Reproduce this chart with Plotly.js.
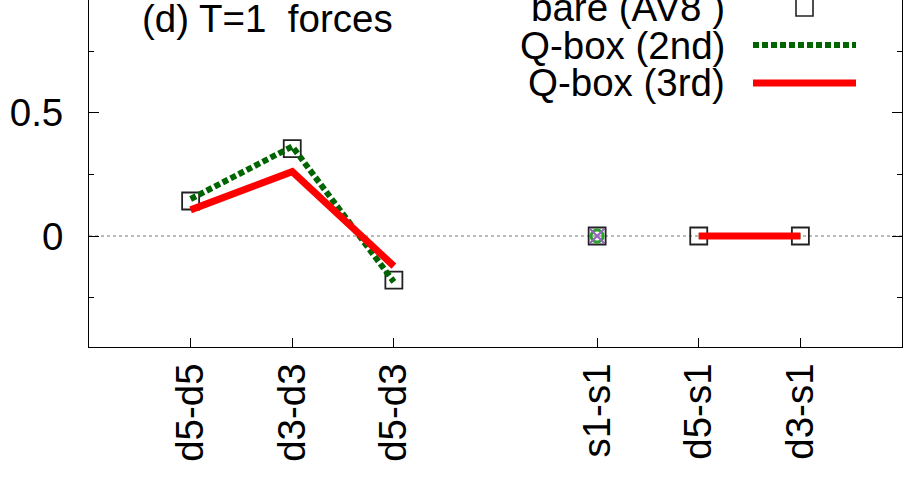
<!DOCTYPE html>
<html><head><meta charset="utf-8">
<script src="https://cdn.plot.ly/plotly-3.0.1.min.js"></script>
<style>html,body{margin:0;padding:0;background:#fff}</style>
</head><body>
<div id="chart" style="width:903px;height:486px"></div>
<script>
// ---- data ----
const categories = ['d5-d5','d3-d3','d5-d3','s1-s1','d5-s1','d3-s1'];
const positions  = [1, 2, 3, 5, 6, 7];
const groups     = [0, 0, 0, 1, 2, 2];
const bareAV8    = [0.142, 0.354, -0.179, 0, 0, 0];
const qbox2nd    = [0.150, 0.363, -0.186, 0, 0, 0];
const qbox3rd    = [0.106, 0.261, -0.122, 0, 0, 0];
const legendNames = ['bare (AV8 )', 'Q-box (2nd)', 'Q-box (3rd)'];
const yTickVals  = [0, 0.5];
const yTickText  = ['0', '0.5'];

const FONT = 'Liberation Sans, Arial, sans-serif';
const FS = 38.5;

function segmented(vals) {
  const x = [], y = [];
  for (let i = 0; i < vals.length; i++) {
    if (i > 0 && groups[i] !== groups[i-1]) { x.push(null); y.push(null); }
    x.push(positions[i]); y.push(vals[i]);
  }
  return {x, y};
}
function singles(vals) {
  const x = [], y = [];
  for (let i = 0; i < vals.length; i++) {
    const n = groups.filter(g => g === groups[i]).length;
    if (n === 1) { x.push(positions[i]); y.push(vals[i]); }
  }
  return {x, y};
}

const green = '#006400', red = '#ff0000';
const s2 = segmented(qbox2nd), s3 = segmented(qbox3rd);
const p2 = singles(qbox2nd), p3 = singles(qbox3rd);

const traces = [
  {x: positions, y: bareAV8, mode: 'markers', type: 'scatter', showlegend: false,
   marker: {symbol: 'square-open', size: 17, color: '#222', line: {width: 1.8, color: '#222'}}},
  {x: s2.x, y: s2.y, mode: 'lines', type: 'scatter', showlegend: false, connectgaps: false,
   line: {color: green, width: 6, dash: '6px,3px'}},
  {x: p2.x, y: p2.y, mode: 'markers', type: 'scatter', showlegend: false,
   marker: {symbol: 'circle-open', size: 12, line: {width: 3, color: green}}},
  {x: s3.x, y: s3.y, mode: 'lines', type: 'scatter', showlegend: false, connectgaps: false,
   line: {color: red, width: 7}},
  {x: p3.x, y: p3.y, mode: 'markers', type: 'scatter', showlegend: false,
   marker: {symbol: 'x-thin-open', size: 15, line: {width: 2.2, color: red}}}
];

// pixel helpers for the hand-made legend (plot area: x 89..902, y 0..347)
const L = 89, W = 813, H = 347;
const px = v => (v - L) / W;
const py = v => (H - v) / H;

const layout = {
  width: 903, height: 486,
  margin: {l: 89, r: 1, t: 0, b: 139, pad: 0},
  paper_bgcolor: '#fff', plot_bgcolor: '#fff',
  font: {family: FONT, size: FS, color: '#000'},
  xaxis: {
    range: [0, 8], tickmode: 'array', tickvals: positions, ticktext: categories,
    tickangle: -90, ticks: 'inside', ticklen: 9, tickwidth: 1, tickcolor: '#000',
    showline: true, linecolor: '#000', linewidth: 1, mirror: false,
    showgrid: false, zeroline: false, fixedrange: true,
    tickfont: {family: FONT, size: FS, color: '#000'}
  },
  yaxis: {
    range: [-0.45, 0.957], tickmode: 'array', tickvals: yTickVals, ticktext: yTickText,
    ticks: 'inside', ticklen: 10, tickwidth: 1, tickcolor: '#000',
    minor: {tickmode: 'linear', tick0: 0, dtick: 0.25, ticks: 'inside', ticklen: 5, tickcolor: '#000', showgrid: false},
    showline: true, linecolor: '#000', linewidth: 1, mirror: 'ticks',
    showgrid: false, zeroline: false, fixedrange: true, ticklabelstandoff: 17,
    tickfont: {family: FONT, size: FS, color: '#000'}
  },
  shapes: [
    {type: 'line', xref: 'paper', x0: 0, x1: 1, yref: 'y', y0: 0, y1: 0,
     line: {color: '#777', width: 1, dash: 'dot'}, layer: 'below'},
    {type: 'rect', xref: 'paper', yref: 'paper', x0: px(796), x1: px(813), y0: py(-1), y1: py(16),
     line: {color: '#222', width: 1.6}},
    {type: 'line', xref: 'paper', yref: 'paper', x0: px(753), x1: px(856), y0: py(45), y1: py(45),
     line: {color: green, width: 6, dash: '6px,3px'}},
    {type: 'line', xref: 'paper', yref: 'paper', x0: px(753), x1: px(856), y0: py(83), y1: py(83),
     line: {color: red, width: 7}}
  ],
  annotations: [
    {xref: 'paper', yref: 'paper', x: px(67), y: py(-15), xanchor: 'right', yanchor: 'middle',
     text: '1', showarrow: false, font: {family: FONT, size: FS, color: '#000'}},
    {xref: 'paper', yref: 'paper', x: px(140), y: py(18), xanchor: 'left', yanchor: 'middle',
     text: '(d) T=1&nbsp; forces', showarrow: false, font: {family: FONT, size: FS, color: '#000'}},
    {xref: 'paper', yref: 'paper', x: px(727), y: py(8), xanchor: 'right', yanchor: 'middle',
     text: legendNames[0], showarrow: false, font: {family: FONT, size: FS, color: '#000'}},
    {xref: 'paper', yref: 'paper', x: px(727), y: py(45), xanchor: 'right', yanchor: 'middle',
     text: legendNames[1], showarrow: false, font: {family: FONT, size: FS, color: '#000'}},
    {xref: 'paper', yref: 'paper', x: px(727), y: py(83), xanchor: 'right', yanchor: 'middle',
     text: legendNames[2], showarrow: false, font: {family: FONT, size: FS, color: '#000'}}
  ],
  showlegend: false
};

Plotly.newPlot('chart', traces, layout, {staticPlot: true, displayModeBar: false});
</script>
</body></html>
